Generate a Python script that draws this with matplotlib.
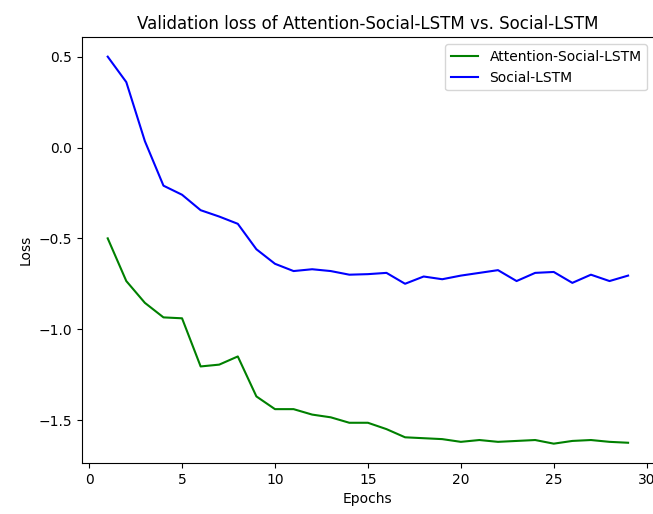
import matplotlib
matplotlib.use("Agg")
import matplotlib.pyplot as plt

epochs = list(range(1, 30))

attention_social_lstm = [-0.50, -0.735, -0.855, -0.935, -0.94, -1.205, -1.195, -1.15, -1.37, -1.44,
                         -1.44, -1.47, -1.485, -1.515, -1.515, -1.55, -1.595, -1.60, -1.605, -1.62,
                         -1.61, -1.62, -1.615, -1.61, -1.63, -1.615, -1.61, -1.62, -1.625]

social_lstm = [0.50, 0.36, 0.035, -0.21, -0.26, -0.345, -0.38, -0.42, -0.56, -0.64,
               -0.68, -0.67, -0.68, -0.70, -0.697, -0.69, -0.75, -0.71, -0.725, -0.705,
               -0.69, -0.675, -0.735, -0.69, -0.685, -0.745, -0.70, -0.735, -0.705]

fig = plt.figure(figsize=(6.53, 5.14), dpi=100)
# axes runs slightly past the right edge, like the cropped original
ax = fig.add_axes([0.1251, 0.0992, 0.8766, 0.8282])

ax.plot(epochs, attention_social_lstm, color="green", label="Attention-Social-LSTM")
ax.plot(epochs, social_lstm, color="blue", label="Social-LSTM")

ax.set_title("Validation loss of Attention-Social-LSTM vs. Social-LSTM")
ax.set_xlabel("Epochs")
ax.set_ylabel("Loss")
ax.legend()

plt.savefig("out.png", dpi=100)
